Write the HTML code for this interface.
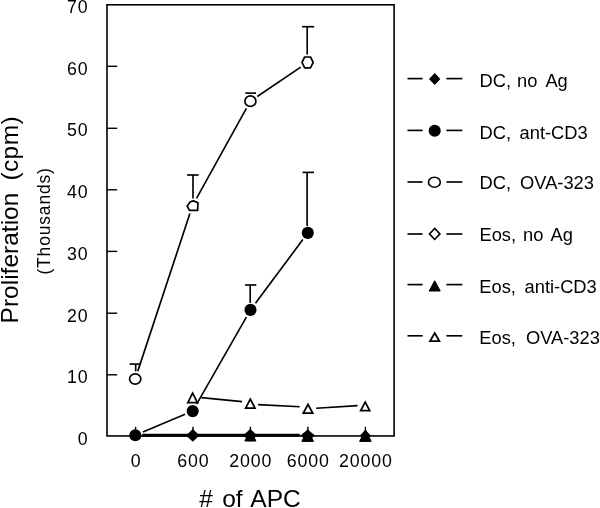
<!DOCTYPE html>
<html>
<head>
<meta charset="utf-8">
<title>Proliferation vs # of APC</title>
<style>
html, body { margin: 0; padding: 0; background: #ffffff; }
body { width: 600px; height: 508px; overflow: hidden; }
svg { display: block; will-change: transform; -webkit-font-smoothing: antialiased; }
svg text { font-family: "Liberation Sans", sans-serif; fill: #000; }
</style>
</head>
<body>
<svg width="600" height="508" viewBox="0 0 600 508">
<rect x="0" y="0" width="600" height="508" fill="#ffffff"/>
<rect x="107.0" y="4.8" width="287.10" height="431.15" fill="none" stroke="#000" stroke-width="1.6"/>
<line x1="107.00" y1="374.80" x2="117.20" y2="374.80" stroke="#000" stroke-width="1.4" stroke-linecap="butt"/>
<line x1="107.00" y1="313.20" x2="117.20" y2="313.20" stroke="#000" stroke-width="1.4" stroke-linecap="butt"/>
<line x1="107.00" y1="251.40" x2="117.20" y2="251.40" stroke="#000" stroke-width="1.4" stroke-linecap="butt"/>
<line x1="107.00" y1="189.80" x2="117.20" y2="189.80" stroke="#000" stroke-width="1.4" stroke-linecap="butt"/>
<line x1="107.00" y1="128.30" x2="117.20" y2="128.30" stroke="#000" stroke-width="1.4" stroke-linecap="butt"/>
<line x1="107.00" y1="66.30" x2="117.20" y2="66.30" stroke="#000" stroke-width="1.4" stroke-linecap="butt"/>
<line x1="135.60" y1="435.95" x2="135.60" y2="426.75" stroke="#000" stroke-width="1.4" stroke-linecap="butt"/>
<line x1="193.00" y1="435.95" x2="193.00" y2="426.75" stroke="#000" stroke-width="1.4" stroke-linecap="butt"/>
<line x1="250.40" y1="435.95" x2="250.40" y2="426.75" stroke="#000" stroke-width="1.4" stroke-linecap="butt"/>
<line x1="307.90" y1="435.95" x2="307.90" y2="426.75" stroke="#000" stroke-width="1.4" stroke-linecap="butt"/>
<line x1="365.40" y1="435.95" x2="365.40" y2="426.75" stroke="#000" stroke-width="1.4" stroke-linecap="butt"/>
<text x="88.30" y="444.80" font-size="17.8" text-anchor="end" style="letter-spacing:0.7px;">0</text>
<text x="88.30" y="383.10" font-size="17.8" text-anchor="end" style="letter-spacing:0.7px;">10</text>
<text x="88.30" y="321.80" font-size="17.8" text-anchor="end" style="letter-spacing:0.7px;">20</text>
<text x="88.30" y="260.10" font-size="17.8" text-anchor="end" style="letter-spacing:0.7px;">30</text>
<text x="88.30" y="198.30" font-size="17.8" text-anchor="end" style="letter-spacing:0.7px;">40</text>
<text x="88.30" y="136.40" font-size="17.8" text-anchor="end" style="letter-spacing:0.7px;">50</text>
<text x="88.30" y="74.90" font-size="17.8" text-anchor="end" style="letter-spacing:0.7px;">60</text>
<text x="88.30" y="13.30" font-size="17.8" text-anchor="end" style="letter-spacing:0.7px;">70</text>
<text x="136.00" y="466.90" font-size="17.8" text-anchor="middle" style="letter-spacing:0.85px;">0</text>
<text x="193.40" y="466.90" font-size="17.8" text-anchor="middle" style="letter-spacing:0.85px;">600</text>
<text x="250.80" y="466.90" font-size="17.8" text-anchor="middle" style="letter-spacing:0.85px;">2000</text>
<text x="308.30" y="466.90" font-size="17.8" text-anchor="middle" style="letter-spacing:0.85px;">6000</text>
<text x="365.80" y="466.90" font-size="17.8" text-anchor="middle" style="letter-spacing:0.85px;">20000</text>
<text y="506.9" font-size="24.5"><tspan x="199.3">#</tspan><tspan x="222.2">of</tspan><tspan x="250.3">APC</tspan></text>
<text x="18.00" y="323.40" font-size="24.5" text-anchor="start" transform="rotate(-90 18.00 323.40)" style="">Proliferation</text>
<text x="18.00" y="180.60" font-size="24.5" text-anchor="start" transform="rotate(-90 18.00 180.60)" style="letter-spacing:0.4px;">(cpm)</text>
<text x="50.00" y="274.60" font-size="17.5" text-anchor="start" transform="rotate(-90 50.00 274.60)" style="letter-spacing:0.83px;">(Thousands)</text>
<line x1="142.20" y1="435.25" x2="299.80" y2="435.25" stroke="#000" stroke-width="3.0" stroke-linecap="butt"/>
<line x1="137.81" y1="371.12" x2="189.89" y2="213.58" stroke="#000" stroke-width="1.65"/>
<line x1="196.52" y1="198.44" x2="246.38" y2="108.46" stroke="#000" stroke-width="1.65"/>
<line x1="257.27" y1="96.54" x2="300.73" y2="67.06" stroke="#000" stroke-width="1.65"/>
<line x1="135.70" y1="364.10" x2="135.70" y2="371.40" stroke="#000" stroke-width="1.65" stroke-linecap="butt"/>
<line x1="129.60" y1="364.10" x2="140.40" y2="364.10" stroke="#000" stroke-width="1.65" stroke-linecap="butt"/>
<line x1="193.00" y1="175.00" x2="193.00" y2="198.40" stroke="#000" stroke-width="1.65" stroke-linecap="butt"/>
<line x1="187.10" y1="175.00" x2="198.60" y2="175.00" stroke="#000" stroke-width="1.65" stroke-linecap="butt"/>
<line x1="250.60" y1="93.10" x2="250.60" y2="93.10" stroke="#000" stroke-width="1.65" stroke-linecap="butt"/>
<line x1="245.30" y1="93.10" x2="256.00" y2="93.10" stroke="#000" stroke-width="1.65" stroke-linecap="butt"/>
<line x1="307.20" y1="26.70" x2="307.20" y2="54.60" stroke="#000" stroke-width="1.65" stroke-linecap="butt"/>
<line x1="302.00" y1="26.70" x2="314.20" y2="26.70" stroke="#000" stroke-width="1.65" stroke-linecap="butt"/>
<ellipse cx="135.20" cy="379.00" rx="5.65" ry="5.1" fill="#fff" stroke="#000" stroke-width="1.7"/>
<polygon points="193.5,200.9 197.9,202.7 197.7,210.4 189.5,210.4 187.2,206.0 190.3,201.8" fill="#fff" stroke="#000" stroke-width="1.7" stroke-linejoin="round"/>
<ellipse cx="250.40" cy="101.20" rx="5.5" ry="5.25" fill="#fff" stroke="#000" stroke-width="1.7"/>
<polygon points="302.0,62.4 304.7,57.0 310.5,57.0 313.2,62.4 310.5,67.9 304.7,67.9" fill="#fff" stroke="#000" stroke-width="1.7" stroke-linejoin="round"/>
<line x1="142.95" y1="432.08" x2="185.05" y2="414.32" stroke="#000" stroke-width="1.65"/>
<line x1="196.67" y1="404.15" x2="246.38" y2="317.11" stroke="#000" stroke-width="1.65"/>
<line x1="255.46" y1="303.24" x2="302.84" y2="239.56" stroke="#000" stroke-width="1.65"/>
<line x1="250.20" y1="285.00" x2="250.20" y2="302.90" stroke="#000" stroke-width="1.65" stroke-linecap="butt"/>
<line x1="245.10" y1="285.00" x2="256.30" y2="285.00" stroke="#000" stroke-width="1.65" stroke-linecap="butt"/>
<line x1="307.10" y1="172.40" x2="307.10" y2="225.90" stroke="#000" stroke-width="1.65" stroke-linecap="butt"/>
<line x1="302.50" y1="172.40" x2="314.00" y2="172.40" stroke="#000" stroke-width="1.65" stroke-linecap="butt"/>
<line x1="201.36" y1="397.67" x2="242.04" y2="401.68" stroke="#000" stroke-width="1.65"/>
<line x1="258.09" y1="404.69" x2="299.71" y2="406.78" stroke="#000" stroke-width="1.65"/>
<line x1="316.18" y1="408.28" x2="357.52" y2="405.68" stroke="#000" stroke-width="1.65"/>
<polygon points="192.60,393.14 197.38,402.62 187.82,402.62" fill="#fff" stroke="#000" stroke-width="1.75" stroke-linejoin="miter" stroke-miterlimit="10"/>
<polygon points="250.30,399.09 254.96,408.02 245.64,408.02" fill="#fff" stroke="#000" stroke-width="1.75" stroke-linejoin="miter" stroke-miterlimit="10"/>
<polygon points="308.00,404.44 312.73,413.23 303.27,413.23" fill="#fff" stroke="#000" stroke-width="1.75" stroke-linejoin="miter" stroke-miterlimit="10"/>
<polygon points="365.20,402.17 369.69,410.62 360.71,410.62" fill="#fff" stroke="#000" stroke-width="1.75" stroke-linejoin="miter" stroke-miterlimit="10"/>
<circle cx="135.30" cy="435.30" r="6.05" fill="#000"/>
<circle cx="192.70" cy="411.10" r="6.05" fill="#000"/>
<circle cx="250.50" cy="309.90" r="6.05" fill="#000"/>
<circle cx="307.80" cy="232.90" r="6.05" fill="#000"/>
<polygon points="192.80,429.00 199.50,435.40 192.80,441.80 186.10,435.40" fill="#000"/>
<polygon points="250.20,429.00 257.20,435.40 250.20,441.80 243.20,435.40" fill="#000"/>
<polygon points="250.40,429.60 255.90,441.00 244.90,441.00" fill="#000" stroke="#000" stroke-width="1.0" stroke-linejoin="miter"/>
<polygon points="307.70,429.40 315.00,435.40 307.70,441.40 300.40,435.40" fill="#000"/>
<polygon points="307.70,429.60 313.50,441.40 301.90,441.40" fill="#000" stroke="#000" stroke-width="1.0" stroke-linejoin="miter"/>
<polygon points="365.40,429.90 370.90,435.40 365.40,440.90 359.90,435.40" fill="#000"/>
<polygon points="365.40,429.60 371.20,441.40 359.60,441.40" fill="#000" stroke="#000" stroke-width="1.0" stroke-linejoin="miter"/>
<line x1="407.50" y1="78.60" x2="422.60" y2="78.60" stroke="#000" stroke-width="1.65" stroke-linecap="butt"/>
<line x1="446.40" y1="78.60" x2="462.30" y2="78.60" stroke="#000" stroke-width="1.65" stroke-linecap="butt"/>
<polygon points="434.70,73.00 440.40,79.00 434.70,85.00 429.00,79.00" fill="#000"/>
<text y="87.00" font-size="18.3"><tspan x="479.50">DC,</tspan><tspan x="516.99">no</tspan><tspan x="545.40">Ag</tspan></text>
<line x1="407.50" y1="130.40" x2="422.60" y2="130.40" stroke="#000" stroke-width="1.65" stroke-linecap="butt"/>
<line x1="446.40" y1="130.40" x2="462.30" y2="130.40" stroke="#000" stroke-width="1.65" stroke-linecap="butt"/>
<circle cx="434.70" cy="130.70" r="6.05" fill="#000"/>
<text y="138.60" font-size="18.3"><tspan x="479.50">DC,</tspan><tspan x="519.57">ant-CD3</tspan></text>
<line x1="407.50" y1="182.00" x2="422.60" y2="182.00" stroke="#000" stroke-width="1.65" stroke-linecap="butt"/>
<line x1="446.40" y1="182.00" x2="462.30" y2="182.00" stroke="#000" stroke-width="1.65" stroke-linecap="butt"/>
<ellipse cx="434.40" cy="182.20" rx="5.9" ry="5.0" fill="#fff" stroke="#000" stroke-width="1.6"/>
<text y="189.30" font-size="18.3"><tspan x="479.50">DC,</tspan><tspan x="520.08">OVA-323</tspan></text>
<line x1="407.50" y1="234.00" x2="422.60" y2="234.00" stroke="#000" stroke-width="1.65" stroke-linecap="butt"/>
<line x1="446.40" y1="234.00" x2="462.30" y2="234.00" stroke="#000" stroke-width="1.65" stroke-linecap="butt"/>
<polygon points="434.70,228.35 439.95,233.90 434.70,239.45 429.45,233.90" fill="#fff" stroke="#000" stroke-width="1.6"/>
<text y="241.30" font-size="18.3"><tspan x="479.50">Eos,</tspan><tspan x="522.99">no</tspan><tspan x="550.60">Ag</tspan></text>
<line x1="407.50" y1="284.60" x2="422.60" y2="284.60" stroke="#000" stroke-width="1.65" stroke-linecap="butt"/>
<line x1="446.40" y1="284.60" x2="462.30" y2="284.60" stroke="#000" stroke-width="1.65" stroke-linecap="butt"/>
<polygon points="434.70,280.75 440.26,291.00 429.14,291.00" fill="#000" stroke="#000" stroke-width="1.0" stroke-linejoin="miter" stroke-miterlimit="10"/>
<text y="293.20" font-size="18.3"><tspan x="479.30">Eos,</tspan><tspan x="524.57">anti-CD3</tspan></text>
<line x1="407.50" y1="335.80" x2="422.60" y2="335.80" stroke="#000" stroke-width="1.65" stroke-linecap="butt"/>
<line x1="446.40" y1="335.80" x2="462.30" y2="335.80" stroke="#000" stroke-width="1.65" stroke-linecap="butt"/>
<polygon points="434.70,333.06 439.39,341.23 430.01,341.23" fill="#fff" stroke="#000" stroke-width="1.75" stroke-linejoin="miter" stroke-miterlimit="10"/>
<text y="344.10" font-size="18.3"><tspan x="479.30">Eos,</tspan><tspan x="525.98">OVA-323</tspan></text>
</svg>
</body>
</html>
